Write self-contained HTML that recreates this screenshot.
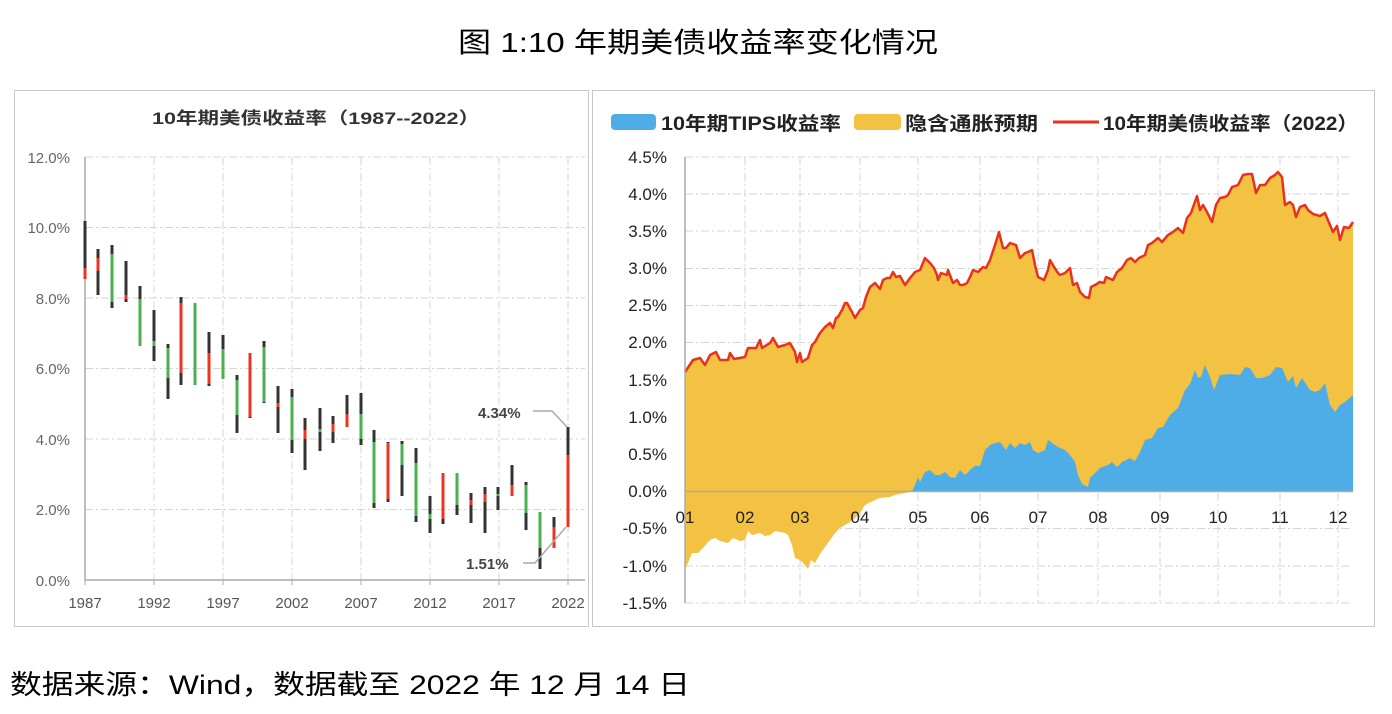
<!DOCTYPE html>
<html><head><meta charset="utf-8"><style>
body{margin:0;background:#fff;width:1392px;height:714px;overflow:hidden}
svg{display:block}
.cj{font-family:"Liberation Sans","Noto Sans CJK SC",sans-serif}
</style></head><body>
<svg width="1392" height="714" xmlns="http://www.w3.org/2000/svg">
<text x="458" y="52" textLength="480" lengthAdjust="spacingAndGlyphs" class="cj" font-size="28" fill="#000">图 1:10 年期美债收益率变化情况</text>
<text x="10" y="694" textLength="680" lengthAdjust="spacingAndGlyphs" class="cj" font-size="27" fill="#000">数据来源：Wind，数据截至 2022 年 12 月 14 日</text>

<!-- Left panel -->
<rect x="14.5" y="90.5" width="574" height="536" fill="none" stroke="#c8c8c8"/>
<text x="152" y="124" textLength="328" lengthAdjust="spacingAndGlyphs" class="cj" font-size="17" font-weight="bold" fill="#333">10年期美债收益率（1987--2022）</text>
<g stroke="#d6d6d6" stroke-dasharray="8,3,2,3" stroke-width="1">
<line x1="85" y1="157" x2="585" y2="157"/><line x1="85" y1="227.5" x2="585" y2="227.5"/><line x1="85" y1="298" x2="585" y2="298"/><line x1="85" y1="368.5" x2="585" y2="368.5"/><line x1="85" y1="439" x2="585" y2="439"/><line x1="85" y1="509.5" x2="585" y2="509.5"/>
<line x1="154" y1="157" x2="154" y2="580"/><line x1="223" y1="157" x2="223" y2="580"/><line x1="292" y1="157" x2="292" y2="580"/><line x1="361" y1="157" x2="361" y2="580"/><line x1="430" y1="157" x2="430" y2="580"/><line x1="499" y1="157" x2="499" y2="580"/><line x1="568" y1="157" x2="568" y2="580"/>
</g>
<line x1="85" y1="157" x2="85" y2="580" stroke="#aaa" stroke-width="1.5"/>
<line x1="85" y1="580" x2="585" y2="580" stroke="#aaa" stroke-width="1.5"/>
<g stroke="#aaa"><line x1="85" y1="580" x2="85" y2="585"/><line x1="154" y1="580" x2="154" y2="585"/><line x1="223" y1="580" x2="223" y2="585"/><line x1="292" y1="580" x2="292" y2="585"/><line x1="361" y1="580" x2="361" y2="585"/><line x1="430" y1="580" x2="430" y2="585"/><line x1="499" y1="580" x2="499" y2="585"/><line x1="568" y1="580" x2="568" y2="585"/></g>
<g font-family="Liberation Sans,sans-serif" font-size="15" fill="#666" text-anchor="end">
<text x="70" y="163">12.0%</text><text x="70" y="233">10.0%</text><text x="70" y="304">8.0%</text><text x="70" y="374">6.0%</text><text x="70" y="445">4.0%</text><text x="70" y="515">2.0%</text><text x="70" y="586">0.0%</text>
</g>
<g font-family="Liberation Sans,sans-serif" font-size="15" fill="#555" text-anchor="middle">
<text x="85" y="608">1987</text><text x="154" y="608">1992</text><text x="223" y="608">1997</text><text x="292" y="608">2002</text><text x="361" y="608">2007</text><text x="430" y="608">2012</text><text x="499" y="608">2017</text><text x="568" y="608">2022</text>
</g>
<g id="candles"></g>
<polyline points="533,411 552,411 567,427" fill="none" stroke="#aaa" stroke-width="1.5"/>
<polyline points="523,563 535,563 566,527" fill="none" stroke="#aaa" stroke-width="1.5"/>
<text x="478" y="418" font-family="Liberation Sans,sans-serif" font-size="15" font-weight="bold" fill="#444">4.34%</text>
<text x="466" y="569" font-family="Liberation Sans,sans-serif" font-size="15" font-weight="bold" fill="#444">1.51%</text>

<!-- Right panel -->
<rect x="592.5" y="90.5" width="782" height="536" fill="none" stroke="#c8c8c8"/>
<rect x="611" y="114" width="45" height="16" rx="4" fill="#4eade6"/>
<text x="661" y="130" textLength="180" lengthAdjust="spacingAndGlyphs" class="cj" font-size="19" font-weight="bold" fill="#222">10年期TIPS收益率</text>
<rect x="854" y="114" width="47" height="16" rx="4" fill="#f4c242"/>
<text x="905" y="130" textLength="133" lengthAdjust="spacingAndGlyphs" class="cj" font-size="19" font-weight="bold" fill="#222">隐含通胀预期</text>
<line x1="1053" y1="122" x2="1099" y2="122" stroke="#e8321e" stroke-width="3"/>
<text x="1103" y="130" textLength="255" lengthAdjust="spacingAndGlyphs" class="cj" font-size="19" font-weight="bold" fill="#222">10年期美债收益率（2022）</text>
<g stroke="#d6d6d6" stroke-dasharray="8,3,2,3">
<line x1="685" y1="157" x2="1352" y2="157"/><line x1="685" y1="194" x2="1352" y2="194"/><line x1="685" y1="231" x2="1352" y2="231"/><line x1="685" y1="268.5" x2="1352" y2="268.5"/><line x1="685" y1="305.5" x2="1352" y2="305.5"/><line x1="685" y1="342.5" x2="1352" y2="342.5"/><line x1="685" y1="380" x2="1352" y2="380"/><line x1="685" y1="417" x2="1352" y2="417"/><line x1="685" y1="454" x2="1352" y2="454"/><line x1="685" y1="528.5" x2="1352" y2="528.5"/><line x1="685" y1="566" x2="1352" y2="566"/><line x1="685" y1="603" x2="1352" y2="603"/>
<line x1="745" y1="157" x2="745" y2="603"/><line x1="800" y1="157" x2="800" y2="603"/><line x1="860" y1="157" x2="860" y2="603"/><line x1="918" y1="157" x2="918" y2="603"/><line x1="980" y1="157" x2="980" y2="603"/><line x1="1038" y1="157" x2="1038" y2="603"/><line x1="1098" y1="157" x2="1098" y2="603"/><line x1="1160" y1="157" x2="1160" y2="603"/><line x1="1218" y1="157" x2="1218" y2="603"/><line x1="1280" y1="157" x2="1280" y2="603"/><line x1="1338" y1="157" x2="1338" y2="603"/>
</g>
<g id="areas"></g>
<line x1="685" y1="157" x2="685" y2="603" stroke="#aaa" stroke-width="1.5"/>
<line x1="685" y1="491.5" x2="1353" y2="491.5" stroke="#aaa" stroke-width="1.5"/>
<g font-family="Liberation Sans,sans-serif" font-size="17" fill="#222" text-anchor="end">
<text x="667" y="163">4.5%</text><text x="667" y="200">4.0%</text><text x="667" y="237">3.5%</text><text x="667" y="274">3.0%</text><text x="667" y="311">2.5%</text><text x="667" y="348">2.0%</text><text x="667" y="386">1.5%</text><text x="667" y="423">1.0%</text><text x="667" y="460">0.5%</text><text x="667" y="497">0.0%</text><text x="667" y="534">-0.5%</text><text x="667" y="572">-1.0%</text><text x="667" y="609">-1.5%</text>
</g>
<g font-family="Liberation Sans,sans-serif" font-size="17" fill="#222" text-anchor="middle">
<text x="685" y="523">01</text><text x="745" y="523">02</text><text x="800" y="523">03</text><text x="860" y="523">04</text><text x="918" y="523">05</text><text x="980" y="523">06</text><text x="1038" y="523">07</text><text x="1098" y="523">08</text><text x="1160" y="523">09</text><text x="1218" y="523">10</text><text x="1280" y="523">11</text><text x="1338" y="523">12</text>
</g>
</svg>
<script>
var NS="http://www.w3.org/2000/svg";
function el(p,t,a){var e=document.createElementNS(NS,t);for(var k in a)e.setAttribute(k,a[k]);p.appendChild(e);return e;}
var C=[[85,221,279,268,279,'r'],[98,249,295,258,271,'r'],[112,245,308,254,302,'g'],[126,261,302,295,299,'r'],[140,286,299,299,346,'g'],[154,310,361,341,346,'g'],[168,344,399,348,378,'g'],[181,297,385,303,373,'r'],[195,303,385,303,385,'g'],[209,332,386,353,384,'r'],[223,335,379,349,379,'g'],[237,375,433,380,415,'g'],[250,353,418,353,417,'r'],[264,341,403,347,402,'g'],[278,386,433,403,407,'r'],[292,389,453,397,440,'g'],[305,418,470,430,439,'r'],[320,408,451,429,432,'g'],[333,416,443,424,432,'r'],[347,395,427,414,427,'r'],[361,393,445,414,439,'g'],[374,430,508,442,503,'g'],[388,442,502,443,499,'r'],[402,441,496,444,465,'g'],[416,448,522,463,516,'g'],[430,496,533,514,519,'g'],[443,473,524,473,519,'r'],[457,473,515,473,505,'g'],[471,493,523,500,505,'r'],[485,487,533,494,502,'r'],[498,487,510,494,496,'g'],[512,465,496,485,496,'r'],[526,482,530,485,513,'g'],[540,512,569,512,548,'g'],[554,517,548,527,548,'r'],[568,427,527,455,527,'r']];
var g=document.getElementById('candles');
C.forEach(function(c){el(g,'rect',{x:c[0]-1.5,y:c[1],width:3,height:c[2]-c[1],fill:'#333'});el(g,'rect',{x:c[0]-1.5,y:c[3],width:3,height:Math.max(2,c[4]-c[3]),fill:c[5]=='r'?'#ee3322':'#4caf50'});});
var R="685,372 693,360 700,358 705,365 710,355 716,352 720,360 728,360 730,353 734,359 745,357 748,348 756,348 760,340 762,348 770,343 773,338 778,347 785,345 790,343 795,352 797,362 800,353 802,362 808,358 812,345 815,342 820,333 825,327 830,323 833,328 836,318 838,317 842,310 845,303 847,303 852,312 855,318 860,310 863,308 866,297 870,287 875,283 880,289 883,280 887,278 890,278 893,272 896,277 900,276 905,285 910,278 915,272 920,270 925,258 930,263 934,268 937,275 938,280 941,273 947,275 948,270 951,278 953,283 957,280 960,285 963,285 967,283 970,277 973,270 978,272 983,267 986,268 990,260 995,245 999,232 1003,248 1006,248 1010,243 1016,245 1020,258 1025,253 1028,252 1032,250 1035,265 1038,277 1044,280 1048,270 1050,260 1054,267 1058,273 1060,275 1065,273 1070,268 1073,285 1077,283 1080,292 1085,297 1089,298 1091,287 1095,285 1100,282 1104,283 1106,277 1113,280 1117,272 1122,268 1127,260 1131,258 1135,262 1139,258 1145,255 1148,245 1152,243 1158,238 1162,242 1168,235 1173,232 1178,228 1183,233 1187,218 1191,213 1197,196 1200,210 1203,205 1207,212 1212,222 1216,205 1220,198 1225,197 1228,195 1232,187 1238,185 1243,175 1248,174 1252,174 1256,193 1260,185 1265,185 1270,178 1275,175 1278,172 1282,177 1285,205 1290,202 1293,205 1296,217 1300,207 1305,205 1308,210 1313,214 1320,216 1325,213 1330,225 1333,232 1337,226 1340,240 1344,227 1349,228 1353,222";
var T="685,570 692,553 698,553 703,548 710,540 715,538 720,541 728,543 733,538 740,541 745,540 748,531 752,535 760,533 765,536 770,535 775,531 780,532 785,533 788,535 792,545 795,558 800,560 805,565 808,569 811,560 815,563 820,554 825,547 830,540 835,533 840,528 845,525 850,522 855,518 860,513 865,505 875,500 880,498 890,497 895,495 905,493 912,491 915,485 918,477 920,482 925,472 930,470 935,475 940,475 945,472 950,477 955,478 960,470 965,475 970,470 975,466 980,466 985,450 990,445 995,443 1000,442 1006,450 1010,443 1015,448 1020,443 1025,445 1030,442 1033,450 1038,453 1045,450 1048,440 1052,443 1058,447 1065,450 1070,455 1075,462 1078,475 1082,484 1088,487 1090,478 1095,473 1100,468 1108,465 1112,462 1117,467 1122,462 1130,458 1135,461 1140,452 1145,440 1152,438 1158,428 1163,427 1170,415 1178,408 1185,390 1190,384 1195,370 1198,378 1201,377 1205,365 1210,377 1214,390 1220,375 1230,374 1240,375 1245,367 1250,368 1256,378 1262,378 1270,375 1276,367 1282,368 1288,382 1293,376 1296,388 1302,378 1310,390 1315,392 1320,390 1325,383 1330,405 1335,412 1340,405 1345,402 1353,395";
var tp=T.split(' ').map(function(s){return s.split(',').map(Number);});
var low=tp.map(function(p){return p[0]+','+Math.max(p[1],491.5);}).reverse().join(' ');
var a=document.getElementById('areas');
el(a,'polygon',{points:R+' '+low,fill:'#f4c242'});
el(a,'polygon',{points:tp.map(function(p){return p[0]+','+Math.min(p[1],491.5);}).join(' ')+' 1353,491.5 685,491.5',fill:'#4eade6'});
el(a,'polyline',{points:R,fill:'none',stroke:'#e8321e','stroke-width':2.5,'stroke-linejoin':'round'});
</script>
</body></html>
